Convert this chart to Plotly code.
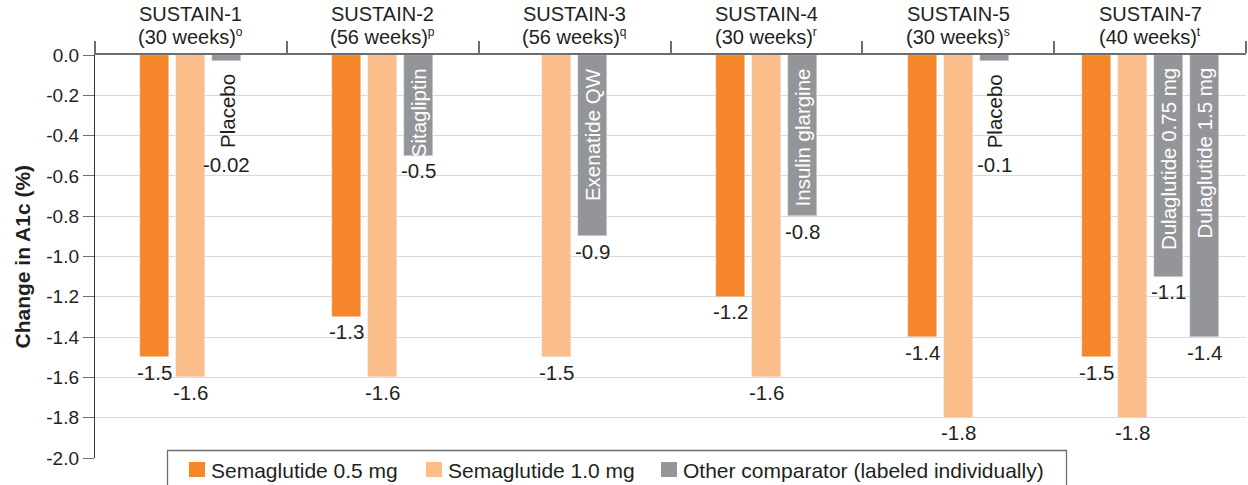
import plotly.graph_objects as go

# ---------------- data ----------------
groups = ["SUSTAIN-1", "SUSTAIN-2", "SUSTAIN-3", "SUSTAIN-4", "SUSTAIN-5", "SUSTAIN-7"]
durations = ["(30 weeks)", "(56 weeks)", "(56 weeks)", "(30 weeks)", "(30 weeks)", "(40 weeks)"]
footnotes = ["o", "p", "q", "r", "s", "t"]

sema_05 = [-1.5, -1.3, None, -1.2, -1.4, -1.5]
sema_10 = [-1.6, -1.6, -1.5, -1.6, -1.8, -1.8]

comp_group = [0, 1, 2, 3, 4, 5, 5]
comp_names = ["Placebo", "Sitagliptin", "Exenatide QW", "Insulin glargine",
              "Placebo", "Dulaglutide 0.75 mg", "Dulaglutide 1.5 mg"]
comp_values = [-0.03, -0.5, -0.9, -0.8, -0.03, -1.1, -1.4]
comp_labels = ["-0.02", "-0.5", "-0.9", "-0.8", "-0.1", "-1.1", "-1.4"]

series_names = ["Semaglutide 0.5 mg", "Semaglutide 1.0 mg", "Other comparator (labeled individually)"]

y_ticks = [0.0, -0.2, -0.4, -0.6, -0.8, -1.0, -1.2, -1.4, -1.6, -1.8, -2.0]
y_tick_labels = ["0.0", "-0.2", "-0.4", "-0.6", "-0.8", "-1.0", "-1.2", "-1.4", "-1.6", "-1.8", "-2.0"]

# ---------------- style ----------------
C_ORANGE = "#F5862A"
C_LIGHT = "#FBBD8A"
C_GRAY = "#939598"
C_TEXT = "#231F20"
C_AXIS = "#6D6E71"
FONT = "Liberation Sans, Arial, Helvetica, sans-serif"

W, H = 1248, 485
ML, MR, MT, MB = 95, 2, 55, 27
PW, PH = W - ML - MR, H - MT - MB
PITCH = 0.1877
BAR_W = 0.151


def px_x(px):
    return (px - ML) / PW


def px_y(py):
    return (H - MB - py) / PH


# positions of bars within each group (centred)
pos = {}
for g in range(len(groups)):
    items = []
    if sema_05[g] is not None:
        items.append(("s05", g))
    if sema_10[g] is not None:
        items.append(("s10", g))
    for k, cg in enumerate(comp_group):
        if cg == g:
            items.append(("cmp", k))
    n = len(items)
    for j, it in enumerate(items):
        pos[it] = g + (j - (n - 1) / 2) * PITCH

x05 = [pos[("s05", g)] for g in range(len(groups)) if sema_05[g] is not None]
y05 = [v for v in sema_05 if v is not None]
x10 = [pos[("s10", g)] for g in range(len(groups)) if sema_10[g] is not None]
y10 = [v for v in sema_10 if v is not None]
xc = [pos[("cmp", k)] for k in range(len(comp_values))]

fig = go.Figure()
fig.add_trace(go.Bar(x=x05, y=y05, width=BAR_W, marker_color=C_ORANGE,
                     name=series_names[0], showlegend=False))
fig.add_trace(go.Bar(x=x10, y=y10, width=BAR_W, marker_color=C_LIGHT,
                     name=series_names[1], showlegend=False))
fig.add_trace(go.Bar(x=xc, y=comp_values, width=BAR_W, marker_color=C_GRAY,
                     name=series_names[2], showlegend=False))

ann = []
VAL_FONT = dict(family=FONT, size=20.5, color=C_TEXT)

# value labels for semaglutide bars
for xs, ys in ((x05, y05), (x10, y10)):
    for x, v in zip(xs, ys):
        ann.append(dict(x=x, y=v, text=f"{v:.1f}", showarrow=False, xanchor="center",
                        yanchor="top", yshift=-1.5, font=VAL_FONT))

# comparator names and values
for k, v in enumerate(comp_values):
    x = xc[k]
    if v > -0.3:
        ann.append(dict(x=x, y=v, text=comp_names[k], textangle=-90, showarrow=False,
                        xanchor="center", yanchor="top", yshift=-11,
                        font=dict(family=FONT, size=20.5, color=C_TEXT)))
        ann.append(dict(x=x, y=v, text=comp_labels[k], showarrow=False, xanchor="center",
                        yanchor="top", yshift=-90, font=VAL_FONT))
    else:
        ann.append(dict(x=x, y=0, text=comp_names[k], textangle=-90, showarrow=False,
                        xanchor="center", yanchor="top", yshift=-11,
                        font=dict(family=FONT, size=20.5, color="white")))
        ann.append(dict(x=x, y=v, text=comp_labels[k], showarrow=False, xanchor="center",
                        yanchor="top", yshift=-1.5, font=VAL_FONT))

# group headers (two lines)
HEAD_FONT = dict(family=FONT, size=20, color=C_TEXT)
for g in range(len(groups)):
    ann.append(dict(x=g, xref="x", y=1, yref="paper", text=groups[g], showarrow=False,
                    xanchor="center", yanchor="middle", yshift=41.5, borderpad=0,
                    font=HEAD_FONT))
    ann.append(dict(x=g, xref="x", y=1, yref="paper",
                    text=f"{durations[g]}<sup><span style='font-size:12px'>{footnotes[g]}</span></sup>",
                    showarrow=False, xanchor="center", yanchor="middle", yshift=19,
                    borderpad=0, font=HEAD_FONT))

# y-axis title
ann.append(dict(x=px_x(22), xref="paper", y=0.5, yref="paper", text="<b>Change in A1c (%)</b>",
                textangle=-90, showarrow=False, xanchor="center", yanchor="middle",
                font=dict(family=FONT, size=21, color=C_TEXT)))

# legend (drawn manually)
shapes = [dict(type="rect", xref="paper", yref="paper", x0=px_x(167.5), x1=px_x(1066.5),
               y0=px_y(505), y1=px_y(450.5), line=dict(color=C_AXIS, width=1.3),
               fillcolor="white", layer="above")]
leg_sq = [189, 426, 661]
leg_colors = [C_ORANGE, C_LIGHT, C_GRAY]
for sx, col, nm in zip(leg_sq, leg_colors, series_names):
    shapes.append(dict(type="rect", xref="paper", yref="paper", x0=px_x(sx), x1=px_x(sx + 16),
                       y0=px_y(477), y1=px_y(462), line=dict(width=0), fillcolor=col,
                       layer="above"))
    ann.append(dict(x=px_x(sx + 20), xref="paper", y=px_y(470), yref="paper", text=nm,
                    showarrow=False, xanchor="left", yanchor="middle",
                    font=dict(family=FONT, size=21, color=C_TEXT)))

fig.update_layout(
    width=W, height=H,
    margin=dict(l=ML, r=MR, t=MT, b=MB, pad=0),
    paper_bgcolor="white", plot_bgcolor="white",
    font=dict(family=FONT, color=C_TEXT),
    annotations=ann, shapes=shapes,
    bargap=0,
    xaxis=dict(range=[-0.5, len(groups) - 0.5], side="top",
               tickvals=[g - 0.5 for g in range(len(groups) + 1)],
               showticklabels=False, ticks="outside", ticklen=12, tickwidth=1.5,
               tickcolor=C_AXIS, showline=True, linecolor=C_AXIS, linewidth=1.5,
               showgrid=False, zeroline=False, fixedrange=True),
    yaxis=dict(range=[-2.0, 0.0], tickvals=y_ticks, ticktext=y_tick_labels,
               ticks="outside", ticklen=11, tickwidth=1.3, tickcolor=C_AXIS,
               showline=True, linecolor="#333333", linewidth=1.3,
               showgrid=True, gridcolor="#D9D9D9", gridwidth=1.3, zeroline=False,
               tickfont=dict(family=FONT, size=19, color=C_TEXT), fixedrange=True),
)

fig.write_html("out.html")
